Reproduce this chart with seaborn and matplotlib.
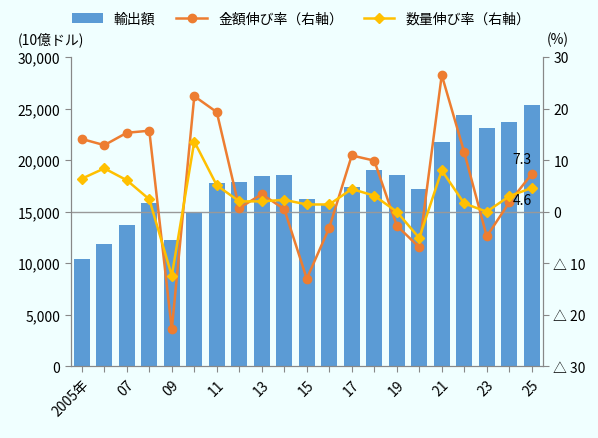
import numpy as np
import matplotlib
matplotlib.use("Agg")
import matplotlib.pyplot as plt
import seaborn as sns

years = list(range(2005, 2026))
exports = [10456, 11824, 13681, 15831, 12215, 14853, 17785, 17883, 18469, 18567,
           16221, 15635, 17427, 19055, 18567, 17199, 21792, 24332, 23160, 23648, 25309]
value_growth = [14.1, 12.9, 15.3, 15.7, -22.8, 22.4, 19.3, 0.7, 3.4, 0.5,
                -13.0, -3.1, 10.9, 9.9, -2.7, -6.9, 26.5, 11.5, -4.8, 1.8, 7.3]
volume_growth = [6.4, 8.4, 6.1, 2.4, -12.4, 13.6, 5.1, 2.0, 2.0, 2.3,
                 1.4, 1.4, 4.4, 3.1, 0.0, -5.1, 8.0, 1.6, 0.0, 3.0, 4.6]
xlabels = ["2005年" if y == 2005 else (f"{y % 100:02d}" if y % 2 == 1 else "") for y in years]

BG = "#f0ffff"
plt.rcParams["font.family"] = ["Noto Sans CJK JP", "DejaVu Sans"]

fig = plt.figure(figsize=(5.98, 4.39), dpi=100, facecolor=BG)
ax = fig.add_axes([0.118, 0.163, 0.79, 0.705], facecolor=BG)
x = np.arange(len(years))
sns.barplot(x=x, y=exports, color="#5b9bd5", saturation=1, width=0.72, ax=ax, label="輸出額")
ax.set_ylim(0, 30000)
ax.set_yticks(range(0, 30001, 5000))
ax.set_yticklabels([f"{v:,}" for v in range(0, 30001, 5000)], fontsize=10)
ax.set_xlim(-0.5, len(years) - 0.5)
ax.set_xticks(x)
ax.set_xticklabels(xlabels, rotation=45, ha="right", rotation_mode="anchor", fontsize=10)
ax.set_xlabel(""); ax.set_ylabel("")
ax.tick_params(axis="x", length=4, color="#888888")
ax.tick_params(axis="y", length=4, color="#888888")

ax2 = ax.twinx()
ax2.plot(x, value_growth, color="#ed7d31", marker="o", markersize=6, lw=1.8, label="金額伸び率（右軸）")
ax2.plot(x, volume_growth, color="#ffc000", marker="D", markersize=5, lw=1.8, label="数量伸び率（右軸）")
ax2.set_ylim(-30, 30)
ax2.set_yticks(range(-30, 31, 10))
ax2.set_yticklabels([f"△ {-v}" if v < 0 else str(v) for v in range(-30, 31, 10)], fontsize=10)
ax2.axhline(0, color="#999999", lw=1, zorder=0)
ax2.tick_params(axis="y", length=4, color="#888888")
for a in (ax, ax2):
    for s in a.spines.values():
        s.set_color("#888888")
    a.spines["top"].set_visible(False)
ax2.text(x[-1], 7.3 + 1.5, "7.3", ha="right", va="bottom", fontsize=10)
ax2.text(x[-1], 4.6 - 1.0, "4.6", ha="right", va="top", fontsize=10)

fig.text(0.03, 0.9, "(10億ドル)", fontsize=10)
fig.text(0.915, 0.9, "(%)", fontsize=10)
h1, l1 = ax.get_legend_handles_labels()
h2, l2 = ax2.get_legend_handles_labels()
fig.legend(h1 + h2, l1 + l2, loc="upper left", bbox_to_anchor=(0.1, 1.0), ncol=3,
           frameon=False, fontsize=10, handlelength=2.2, columnspacing=1.5)
if ax.get_legend():
    ax.get_legend().remove()
fig.savefig("out.png", dpi=100, facecolor=BG)
